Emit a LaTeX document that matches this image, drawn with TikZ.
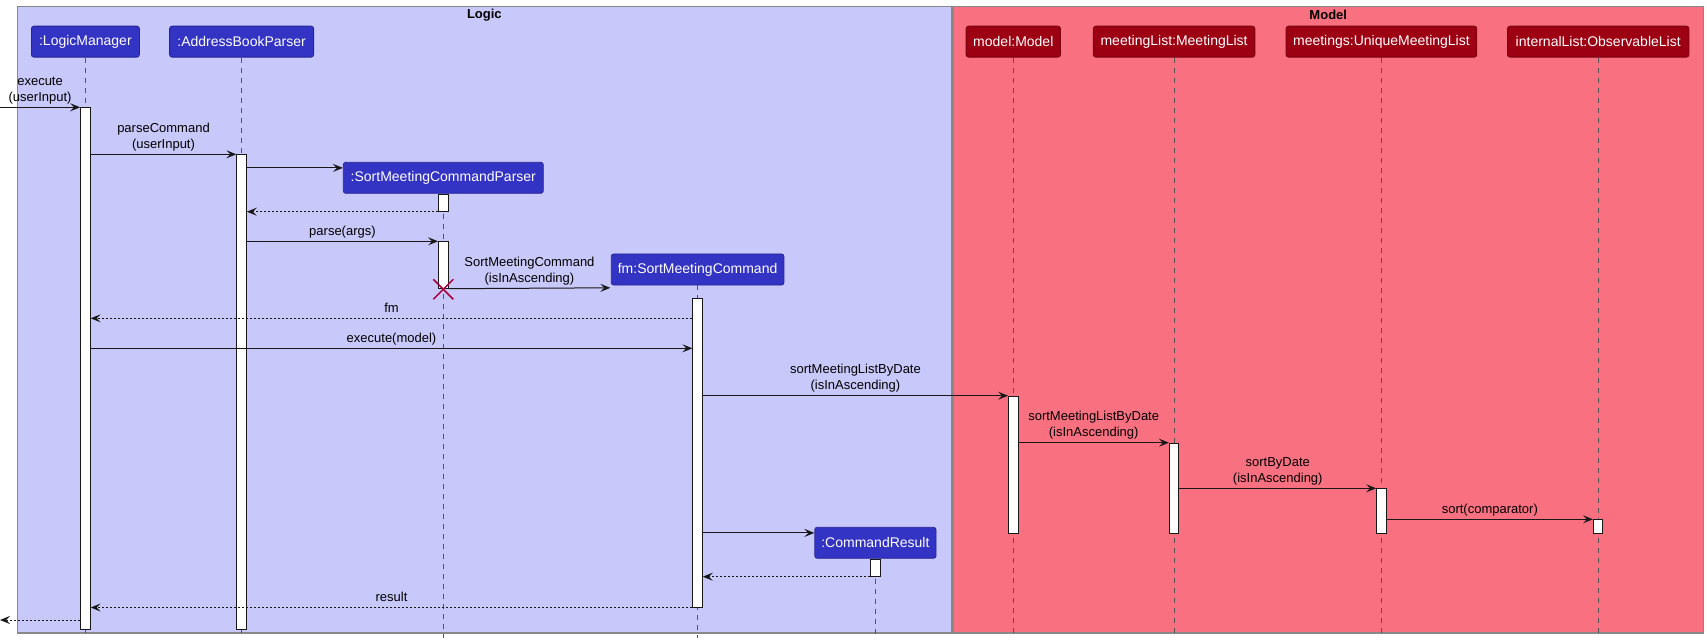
\documentclass[tikz,border=0pt]{standalone}
\usepackage{fontspec}
\setmainfont{Liberation Sans}
\usetikzlibrary{arrows.meta,calc}
\definecolor{logicbg}{HTML}{C8C8FA}
\definecolor{modelbg}{HTML}{F97181}
\definecolor{logicfg}{HTML}{3333C4}
\definecolor{modelfg}{HTML}{9D0012}
\definecolor{ink}{HTML}{181818}
\definecolor{xred}{HTML}{A80036}
\definecolor{lifegrey}{HTML}{555555}
\definecolor{groupedge}{HTML}{888888}
\begin{document}
\begin{tikzpicture}[x=1pt,y=-1pt,
  group/.style={draw=groupedge, line width=1.2pt, rectangle, inner sep=0pt, anchor=north west},
  grouptitle/.style={font=\bfseries\fontsize{13}{15}\selectfont, text=black, inner sep=0pt},
  part/.style={rectangle, rounded corners=2.5pt, minimum height=31pt, inner sep=0pt, text=white, font=\fontsize{14}{16}\selectfont, line width=0.8pt},
  lpart/.style={part, fill=logicfg, draw=logicfg!75!black},
  mpart/.style={part, fill=modelfg, draw=modelfg!75!black},
  act/.style={rectangle, draw=ink, fill=white, line width=1pt, minimum width=9.5pt, inner sep=0pt, anchor=north},
  lifeline/.style={draw=lifegrey, line width=0.8pt, dash pattern=on 5pt off 5pt},
  msg/.style={draw=ink, line width=1pt, -{Stealth[length=10pt,width=8pt,inset=4pt]}},
  ret/.style={msg, dash pattern=on 2pt off 2pt},
  lbl/.style={font=\fontsize{13}{16}\selectfont, align=center, inner sep=0pt, anchor=south, yshift=0.7pt, execute at end node={\strut}, text=black},
  destroy/.style={draw=xred, line width=1.5pt},
]
\useasboundingbox (0,0) rectangle (1707,644);

% groups
\node[group, fill=logicbg, minimum width=933.5pt, minimum height=626.3pt] (logic) at (17,6) {};
\node[group, fill=modelbg, minimum width=750.7pt, minimum height=626.3pt] (model) at (952.3,6) {};
\node[grouptitle] (logicT) at ($(logic.north)+(0,9)$) {Logic};
\node[grouptitle] (modelT) at ($(model.north)+(0,9)$) {Model};

% participants
\node[lpart, minimum width=108pt] (lm) at (85.4,41.65) {:LogicManager};
\node[lpart, minimum width=144pt] (abp) at (241.6,41.65) {:AddressBookParser};
\node[lpart, minimum width=200pt] (smcp) at (443.3,177.8) {:SortMeetingCommandParser};
\node[lpart, minimum width=172.7pt] (fm) at (697.6,269.5) {fm:SortMeetingCommand};
\node[lpart, minimum width=121.3pt] (cr) at (875.4,542.8) {:CommandResult};
\node[mpart, minimum width=94.4pt] (mm) at (1013.3,41.65) {model:Model};
\node[mpart, minimum width=161.5pt] (ml) at (1174.1,41.65) {meetingList:MeetingList};
\node[mpart, minimum width=190.8pt] (mt) at (1381.4,41.65) {meetings:UniqueMeetingList};
\node[mpart, minimum width=181.5pt] (il) at (1598.2,41.65) {internalList:ObservableList};

% lifeline ends
\coordinate (lmE) at (85.4,633.3);
\coordinate (abpE) at (241.6,633.3);
\coordinate (smcpE) at (443.3,638);
\coordinate (fmE) at (697.6,637.5);
\coordinate (crE) at (875.4,634);
\coordinate (mmE) at (1013.3,633);
\coordinate (mlE) at (1174.1,633);
\coordinate (mtE) at (1381.4,633);
\coordinate (ilE) at (1598.2,633);

\draw[lifeline] (lm.south) -- (lmE);
\draw[lifeline] (abp.south) -- (abpE);
\draw[lifeline] (smcp.south) -- (smcpE);
\draw[lifeline] (fm.south) -- (fmE);
\draw[lifeline] (cr.south) -- (crE);
\draw[lifeline] (mm.south) -- (mmE);
\draw[lifeline] (ml.south) -- (mlE);
\draw[lifeline] (mt.south) -- (mtE);
\draw[lifeline] (il.south) -- (ilE);

% activations
\node[act, minimum height=521.4pt] (lmA) at (lm.south |- 0,107.3) {};
\node[act, minimum height=474.4pt] (abpA) at (abp.south |- 0,154.3) {};
\node[act, minimum height=17pt] (smcpA1) at (smcp.south) {};
\node[act, minimum height=46.4pt] (smcpA2) at (smcp.south |- 0,241.3) {};
\node[act, minimum height=308.2pt] (fmA) at (fm.south |- 0,298.3) {};
\node[act, minimum height=137.6pt] (mmA) at (mm.south |- 0,395.7) {};
\node[act, minimum height=90.6pt] (mlA) at (ml.south |- 0,442.7) {};
\node[act, minimum height=45pt] (mtA) at (mt.south |- 0,488.3) {};
\node[act, minimum height=14pt] (ilA) at (il.south |- 0,519.3) {};
\node[act, minimum height=17pt] (crA) at (cr.south) {};

% messages
\coordinate (inS) at (0,107.3);
\draw[msg] (inS) -- (lmA.north west) node[lbl, midway] {execute\\(userInput)};
\draw[msg] (lmA.east |- abpA.north) -- (abpA.north west) node[lbl, midway] {parseCommand\\(userInput)};
\coordinate (smcpIn) at ($(smcp.north west)+(0,6)$);
\draw[msg] (abpA.east |- smcpIn) -- (smcpIn);
\draw[ret] (smcpA1.south west) -- (abpA.east |- smcpA1.south);
\draw[msg] (abpA.east |- smcpA2.north) -- (smcpA2.north west) node[lbl, midway] {parse(args)};
\coordinate (fmIn) at ($(fm.south west)+(-0.5,2.4)$);
\draw[msg] (smcpA2.south east) -- (fmIn) node[lbl, midway] {SortMeetingCommand\\(isInAscending)};
\coordinate (fmRet) at ($(fmA.north west)+(0,20)$);
\draw[ret] (fmRet) -- (lmA.east |- fmRet) node[lbl, midway] {fm};
\coordinate (fmCall) at ($(fmA.north west)+(0,50)$);
\draw[msg] (lmA.east |- fmCall) -- (fmCall) node[lbl, midway] {execute(model)};
\draw[msg] (fmA.east |- mmA.north) -- (mmA.north west) node[lbl, midway] {sortMeetingListByDate\\(isInAscending)};
\draw[msg] (mmA.east |- mlA.north) -- (mlA.north west) node[lbl, midway] {sortMeetingListByDate\\(isInAscending)};
\draw[msg] (mlA.east |- mtA.north) -- (mtA.north west) node[lbl, midway] {sortByDate\\(isInAscending)};
\draw[msg] (mtA.east |- ilA.north) -- (ilA.north west) node[lbl, midway] {sort(comparator)};
\coordinate (crIn) at ($(cr.north west)+(0,6)$);
\draw[msg] (fmA.east |- crIn) -- (crIn);
\draw[ret] (crA.south west) -- (fmA.east |- crA.south);
\draw[ret] (fmA.south west) -- (lmA.east |- fmA.south) node[lbl, midway] {result};
\coordinate (outE) at (0,620);
\draw[ret] (lmA.west |- outE) -- (outE);

% destroy mark
\coordinate (xc) at ($(smcpA2.south)+(0,0.6)$);
\draw[destroy] ($(xc)+(-10,-10)$) -- ($(xc)+(10,10)$);
\draw[destroy] ($(xc)+(-10,10)$) -- ($(xc)+(10,-10)$);
\end{tikzpicture}
\end{document}
